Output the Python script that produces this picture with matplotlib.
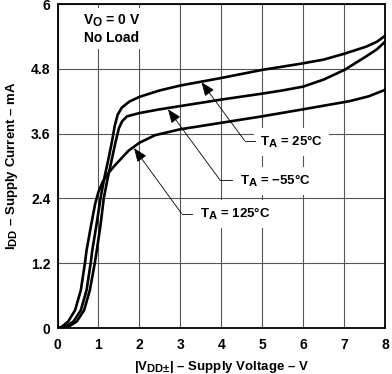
import matplotlib
matplotlib.use('Agg')
import matplotlib.pyplot as plt
import matplotlib._mathtext as mathtext_internal

plt.rcParams['font.family'] = ['Liberation Sans', 'DejaVu Sans']
plt.rcParams['font.weight'] = 'bold'
plt.rcParams['mathtext.fontset'] = 'custom'
plt.rcParams['mathtext.rm'] = 'Liberation Sans:bold'
plt.rcParams['mathtext.it'] = 'Liberation Sans:bold'
plt.rcParams['mathtext.bf'] = 'Liberation Sans:bold'
# the datasheet subscripts are nearly full size
mathtext_internal.SHRINK_FACTOR = 0.85

# supply current (mA) vs |VDD+| (V)
v_25 = [0, 0.18, 0.39, 0.57, 0.71, 0.81, 0.85, 0.95, 1.05, 1.15, 1.25, 1.33, 1.40, 1.47,
        1.57, 1.75, 2.0, 2.5, 3.0, 3.5, 4.0, 5.0, 5.91, 6.5, 7.01, 7.54, 7.8, 8.0]
i_25 = [0, 0.02, 0.12, 0.33, 0.70, 1.2, 1.44, 1.9, 2.4, 2.8, 3.15, 3.45, 3.75, 3.95,
        4.08, 4.19, 4.28, 4.40, 4.49, 4.56, 4.63, 4.78, 4.89, 4.97, 5.08, 5.21, 5.30, 5.41]

v_m55 = [0, 0.26, 0.47, 0.65, 0.79, 0.91, 0.96, 1.05, 1.13, 1.22, 1.32, 1.42, 1.50, 1.58,
         1.70, 2.0, 2.5, 3.0, 3.5, 4.0, 5.0, 5.5, 6.0, 6.5, 7.01, 7.54, 7.8, 8.0]
i_m55 = [0, 0.02, 0.12, 0.33, 0.70, 1.2, 1.44, 1.9, 2.4, 2.75, 3.1, 3.45, 3.7, 3.83,
         3.92, 3.98, 4.05, 4.11, 4.17, 4.23, 4.34, 4.40, 4.47, 4.60, 4.78, 5.03, 5.16, 5.30]

v_125 = [0, 0.10, 0.26, 0.43, 0.57, 0.67, 0.71, 0.82, 0.92, 1.0, 1.1, 1.22, 1.40, 1.73, 2.0,
         2.38, 3.0, 4.0, 5.0, 6.0, 7.13, 7.6, 8.0]
i_125 = [0, 0.02, 0.12, 0.33, 0.70, 1.2, 1.44, 1.9, 2.3, 2.52, 2.70, 2.85, 3.01, 3.28, 3.43,
         3.57, 3.68, 3.80, 3.92, 4.05, 4.20, 4.29, 4.41]

x_ticks = [0, 1, 2, 3, 4, 5, 6, 7, 8]
y_ticks = [0, 1.2, 2.4, 3.6, 4.8, 6]
y_tick_labels = ['0', '1.2', '2.4', '3.6', '4.8', '6']

# callouts: label, arrow tip, elbow, end of horizontal leader, text anchor
callouts = [
    (r'T$_\mathrm{A}$ = 25°C', (3.52, 4.55), (4.57, 3.47), 4.82, (4.95, 3.37)),
    (r'T$_\mathrm{A}$ = −55°C', (2.70, 4.05), (3.97, 2.74), 4.26, (4.46, 2.65)),
    (r'T$_\mathrm{A}$ = 125°C', (1.87, 3.33), (3.03, 2.12), 3.29, (3.48, 2.03)),
]

fig = plt.figure(figsize=(3.92, 3.74), dpi=100)
ax = fig.add_axes([57.5 / 392, 46 / 374, 327.5 / 392, 324 / 374])

ax.set_xlim(0, 8)
ax.set_ylim(0, 6)
ax.set_xticks(x_ticks)
ax.set_yticks(y_ticks)
ax.set_yticklabels(y_tick_labels)
ax.grid(True, color='#555555', lw=0.8, zorder=0)
ax.set_axisbelow(True)
ax.tick_params(length=0, labelsize=10, pad=5)
ax.tick_params(axis='x', pad=7)
for lab in ax.get_xticklabels() + ax.get_yticklabels():
    lab.set_fontweight('bold')
for s in ax.spines.values():
    s.set_linewidth(1.3)

for v, i in [(v_25, i_25), (v_m55, i_m55), (v_125, i_125)]:
    ax.plot(v, i, color='black', lw=1.9, zorder=5, solid_capstyle='round', solid_joinstyle='round')

for label, tip, elbow, x_end, anchor in callouts:
    ax.text(anchor[0], anchor[1], label, fontsize=9.5, fontweight='bold', ha='left', va='baseline',
            zorder=3, bbox=dict(boxstyle='square,pad=0.45', fc='white', ec='none'))
    ax.plot([elbow[0], x_end], [elbow[1], elbow[1]], color='black', lw=0.6, zorder=4)
    ax.annotate('', xy=tip, xytext=elbow, zorder=6,
                arrowprops=dict(arrowstyle='-|>,head_length=0.7,head_width=0.28', lw=0.6,
                                color='black', mutation_scale=12, shrinkA=0, shrinkB=0))

ax.text(1.33, 5.54, 'V$_\\mathrm{O}$ = 0 V\nNo Load', fontsize=10, fontweight='bold',
        ha='center', va='center', linespacing=1.1, zorder=3,
        bbox=dict(boxstyle='square,pad=0.3', fc='white', ec='none'))

ax.set_xlabel(r'|V$_\mathrm{DD±}$| – Supply Voltage – V', fontsize=9.5, fontweight='bold', labelpad=5)
ax.set_ylabel(r'I$_\mathrm{DD}$ – Supply Current – mA', fontsize=9.5, fontweight='bold', labelpad=8)

fig.savefig('out.png', dpi=100)
